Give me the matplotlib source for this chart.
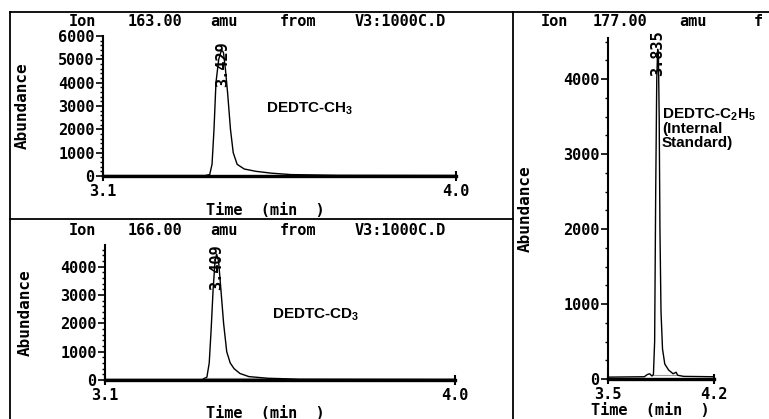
import matplotlib
matplotlib.use("Agg")
import matplotlib.pyplot as plt
from matplotlib.ticker import MultipleLocator
from matplotlib.lines import Line2D

plt.rcParams["mathtext.fontset"] = "custom"
plt.rcParams["mathtext.rm"] = "Liberation Sans:bold"
plt.rcParams["mathtext.it"] = "Liberation Sans:bold"
plt.rcParams["mathtext.bf"] = "Liberation Sans:bold"

# ---- data ----
ch3_time = [3.10, 3.36, 3.372, 3.378, 3.383, 3.388, 3.395, 3.402, 3.407, 3.412, 3.418, 3.425,
            3.432, 3.442, 3.46, 3.49, 3.53, 3.58, 3.70, 4.00]
ch3_abund = [20, 20, 60, 500, 2000, 4000, 5000, 5400, 5300, 4600, 3500, 2000,
             1000, 500, 300, 200, 120, 60, 30, 25]

cd3_time = [3.10, 3.35, 3.362, 3.368, 3.373, 3.378, 3.383, 3.387, 3.392, 3.398, 3.405, 3.413,
            3.422, 3.432, 3.447, 3.47, 3.52, 3.60, 4.00]
cd3_abund = [20, 20, 100, 600, 1800, 3200, 4200, 4450, 4200, 3200, 2000, 1000,
             600, 400, 230, 120, 60, 30, 25]

c2h5_time = [3.50, 3.74, 3.76, 3.775, 3.79, 3.80, 3.808, 3.815, 3.822, 3.828, 3.833, 3.838,
             3.843, 3.85, 3.86, 3.875, 3.90, 3.93, 3.95, 3.96, 4.00, 4.20]
c2h5_abund = [25, 30, 60, 70, 40, 60, 500, 2500, 4000, 4400, 4300, 3500,
              2000, 900, 400, 200, 120, 70, 90, 50, 35, 30]

title_words = [["Ion", "163.00", "amu", "from", "V3:1000C.D"],
               ["Ion", "166.00", "amu", "from", "V3:1000C.D"],
               ["Ion", "177.00", "amu", "f"]]
peak_labels = ["3.429", "3.409", "3.835"]
compounds = [r"DEDTC-CH$_3$", r"DEDTC-CD$_3$", "DEDTC-C$_2$H$_5$\n(Internal\nStandard)"]
xlims = [(3.1, 4.0), (3.1, 4.0), (3.5, 4.2)]
ylims = [(0, 6000), (0, 4770), (0, 4550)]
xlabels = [["3.1", "4.0"], ["3.1", "4.0"], ["3.5", "4.2"]]

W, H = 769, 419
fig = plt.figure(figsize=(W / 100, H / 100), dpi=100)
mono = dict(family="DejaVu Sans Mono", weight="bold")


def fx(x):
    return x / W


def fy(y):
    return 1 - y / H


def px_axes(x0, y0, x1, y1):
    # pixel box (top-left origin) -> figure axes
    return fig.add_axes([fx(x0), fy(y1), (x1 - x0) / W, (y1 - y0) / H])


# panel frame lines
frame = [((10, 10), (12, 419)), ((10, 769), (12, 12)), ((513, 513), (12, 419)), ((10, 513), (219, 219))]
for xs, ys in frame:
    fig.add_artist(Line2D([fx(x) for x in xs], [fy(y) for y in ys], color="black", lw=1.3))

boxes = [(103, 36, 456, 176), (105, 245, 455, 380), (608, 38, 714, 379)]
series = [(ch3_time, ch3_abund), (cd3_time, cd3_abund), (c2h5_time, c2h5_abund)]
minors = [200, 200, 250]
title_y = [22, 230, 22]
title_x = [[82, 155, 224, 298, 400], [82, 155, 224, 298, 400], [554, 620, 693, 758]]
label_pos = [(3.515, 2900), (3.53, 2300), (3.855, 3347)]
plabel = [(3.405, 4800), (3.386, 3990), (3.831, 4347)]
ylab_x = [22, 25, 525]
time_x = [265, 265, 650]
time_y = [210, 413, 410]
base_seg = [(3.37, 3.60), (3.36, 3.55), (3.80, 3.95)]

for i in range(3):
    x0, y0, x1, y1 = boxes[i]
    ax = px_axes(x0, y0, x1, y1)
    t, a = series[i]
    ax.plot(base_seg[i], [60, 60], color="#9a9a9a", lw=0.8)
    ax.plot(t, a, color="black", lw=1.0)
    ax.set_xlim(*xlims[i])
    ax.set_ylim(*ylims[i])
    for s in ["top", "right"]:
        ax.spines[s].set_visible(False)
    ax.spines["bottom"].set_linewidth(2.4)
    ax.spines["left"].set_linewidth(1.5)
    ax.set_xticks(list(xlims[i]))
    ax.set_xticklabels(xlabels[i], fontsize=11, **mono)
    ax.tick_params(axis="x", direction="inout", length=7, width=1.5, pad=2)
    ax.yaxis.set_major_locator(MultipleLocator(1000))
    ax.yaxis.set_minor_locator(MultipleLocator(minors[i]))
    ax.tick_params(axis="y", which="major", length=5, width=1.2, pad=1, labelsize=11)
    ax.tick_params(axis="y", which="minor", length=2.5, width=1.0)
    for lab in ax.get_yticklabels():
        lab.set_fontfamily("DejaVu Sans Mono")
        lab.set_fontweight("bold")
    ax.patch.set_visible(False)

    # axis titles at their places in the panel
    fig.text(fx(time_x[i]), fy(time_y[i]), "Time  (min  )",
             ha="center", va="center", fontsize=11, **mono)
    fig.text(fx(ylab_x[i]), fy((y0 + y1) / 2), "Abundance", rotation=90,
             ha="center", va="center", fontsize=11.5, **mono)

    ax.text(plabel[i][0], plabel[i][1], peak_labels[i], rotation=90, ha="center", va="center",
            fontsize=11, **mono)
    ax.text(label_pos[i][0], label_pos[i][1], compounds[i], fontsize=11,
            family="Liberation Sans", weight="bold", va="center", ha="left",
            linespacing=0.95)
    for word, wx in zip(title_words[i], title_x[i]):
        fig.text(fx(wx), fy(title_y[i]), word, fontsize=11, va="center", ha="center", **mono)

fig.savefig("out.png", dpi=100)
